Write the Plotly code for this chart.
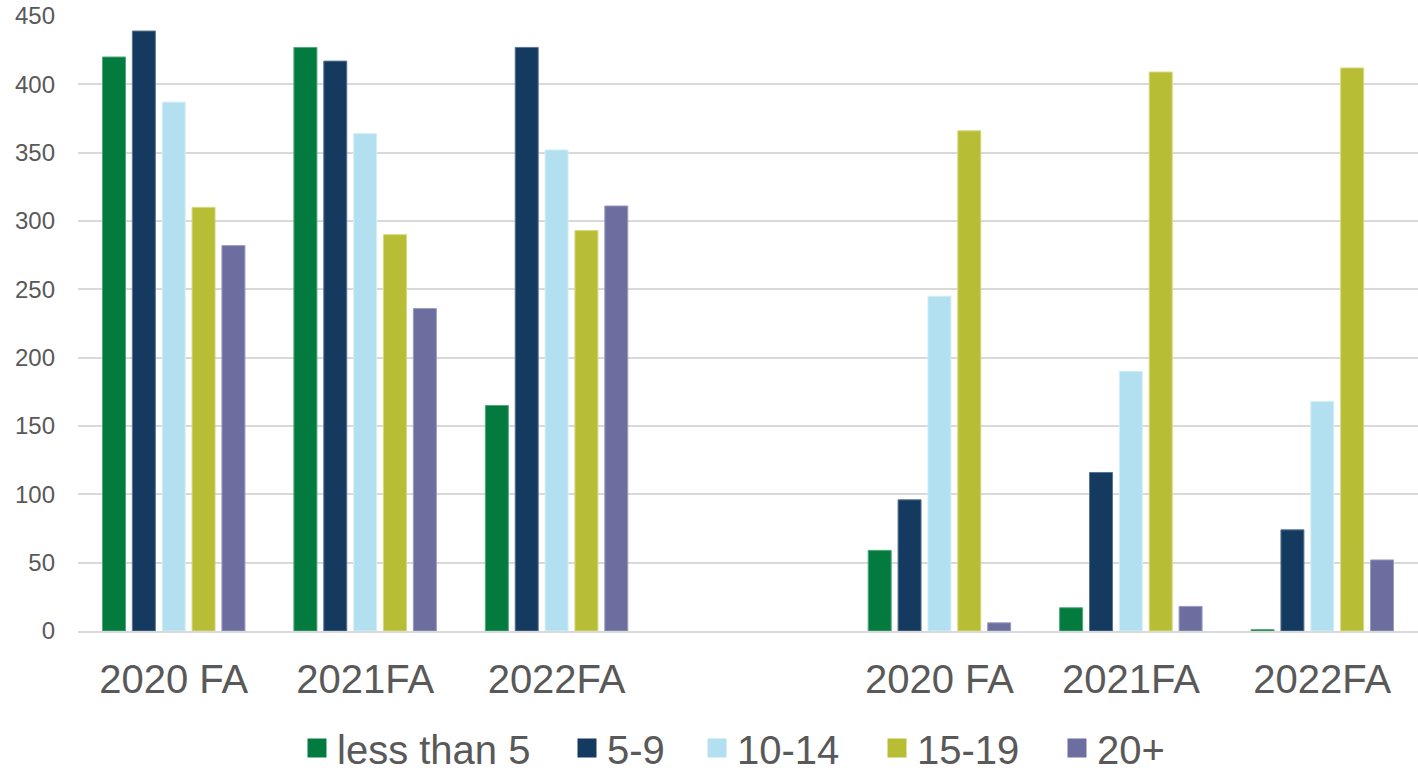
import plotly.graph_objects as go

categories = ["2020 FA", "2021FA", "2022FA", "", "2020 FA", "2021FA", "2022FA"]
series_names = ["less than 5", "5-9", "10-14", "15-19", "20+"]
less_than_5 = [420, 427, 165, None, 59, 17, 1]
s5_9 = [439, 417, 427, None, 96, 116, 74]
s10_14 = [387, 364, 352, None, 245, 190, 168]
s15_19 = [310, 290, 293, None, 366, 409, 412]
s20_plus = [282, 236, 311, None, 6, 18, 52]
y_ticks = [0, 50, 100, 150, 200, 250, 300, 350, 400, 450]

colors = ["#037A3E", "#153A60", "#B2E0F0", "#B7BE35", "#6B6E9E"]
edge = ["#4FA77A", "#5A7596", "#D6EFF8", "#D5DA7E", "#9A9CC0"]
values = [less_than_5, s5_9, s10_14, s15_19, s20_plus]
xpos = list(range(len(categories)))

# legend swatch centres (page pixels)
legend_px = [317, 587, 717, 897, 1077]

font_family = "Liberation Sans, Arial, Helvetica, sans-serif"

W, H = 1418, 772
ML, MR, MT, MB = 78, 0, 16, 141
plot_w = W - ML - MR
plot_h = H - MT - MB

fig = go.Figure()
for name, vals, c, e in zip(series_names, values, colors, edge):
    fig.add_trace(go.Bar(
        x=xpos, y=vals, name=name, showlegend=False, legendgroup=name,
        marker=dict(color=c, line=dict(color=e, width=1)),
    ))

legend_layouts = {}
for i, (name, c, px) in enumerate(zip(series_names, colors, legend_px)):
    key = "legend" if i == 0 else f"legend{i + 1}"
    fig.add_trace(go.Scatter(
        x=[None], y=[None], mode="markers", name=name, legendgroup=name,
        legend=key,
        marker=dict(symbol="square", size=16, color=c, line=dict(color=c, width=3)),
    ))
    legend_layouts[key] = dict(
        orientation="h", xanchor="left", yanchor="middle",
        x=(px - ML - 20) / plot_w, y=-(748 - (MT + plot_h)) / plot_h,
        font=dict(size=40, color="#595959"), itemsizing="trace",
        itemclick=False, itemdoubleclick=False, bgcolor="rgba(0,0,0,0)",
    )

fig.update_layout(
    width=W, height=H,
    barmode="group", bargap=0.22, bargroupgap=0.23,
    plot_bgcolor="white", paper_bgcolor="white",
    margin=dict(l=ML, r=MR, t=MT, b=MB, autoexpand=False),
    font=dict(family=font_family, color="#595959"),
    showlegend=True,
    xaxis=dict(
        tickmode="array", tickvals=xpos, ticktext=categories,
        range=[-0.5, len(categories) - 0.5],
        tickfont=dict(size=40, color="#595959"),
        showgrid=False, showline=True, linecolor="#D9D9D9", linewidth=2,
        ticks="", ticklabelstandoff=12, zeroline=False,
    ),
    yaxis=dict(
        range=[0, 450], tickvals=y_ticks,
        tickfont=dict(size=24, color="#595959"),
        showgrid=True, gridcolor="#D9D9D9", gridwidth=1.5,
        zeroline=False, showline=False, ticks="", ticklabelstandoff=22,
        ticklabeloverflow="allow",
    ),
    **legend_layouts,
)

fig.write_html("out.html", config={"displayModeBar": False},
               post_script="document.body.style.margin='0px';")
